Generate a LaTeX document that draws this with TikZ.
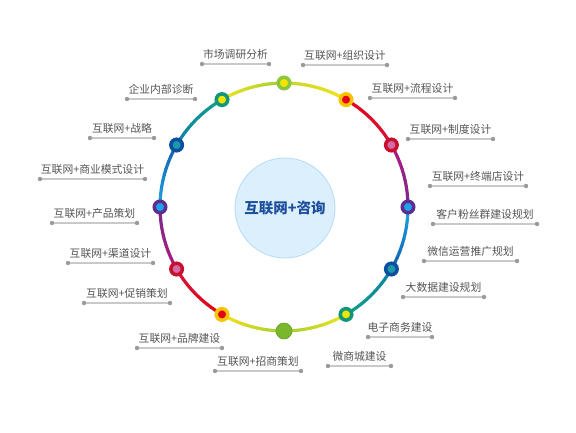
\documentclass[tikz,border=0pt]{standalone}
\usepackage{fontspec}
\setmainfont{Noto Sans CJK SC}
\usetikzlibrary{calc}
\definecolor{sgA}{HTML}{C2D82C}
\definecolor{sgB}{HTML}{F7E11B}
\definecolor{srA}{HTML}{E60012}
\definecolor{srB}{HTML}{D7143C}
\definecolor{spA}{HTML}{B0197A}
\definecolor{spB}{HTML}{7B2A8F}
\definecolor{sbA}{HTML}{22A6E6}
\definecolor{sbB}{HTML}{0F5FAE}
\definecolor{stA}{HTML}{0F7FA8}
\definecolor{stB}{HTML}{11A088}
\definecolor{syA}{HTML}{F0E61A}
\definecolor{syB}{HTML}{A3CD39}
\definecolor{oGreen}{HTML}{8CC63F}
\definecolor{iYellow}{HTML}{F2E500}
\definecolor{oYellow}{HTML}{F9C300}
\definecolor{iRed}{HTML}{E2001A}
\definecolor{oRed}{HTML}{C8102E}
\definecolor{iPink}{HTML}{D46AA6}
\definecolor{oPurple}{HTML}{5C2D91}
\definecolor{iBlue}{HTML}{1FA3E8}
\definecolor{oDBlue}{HTML}{0B4FA0}
\definecolor{iTeal}{HTML}{1A9AAA}
\definecolor{oTeal}{HTML}{10967A}
\definecolor{solidGreen}{HTML}{78B82A}
\definecolor{lineGray}{HTML}{C9C9C9}
\definecolor{dotGray}{HTML}{9A9A9A}
\definecolor{txtGray}{HTML}{555555}
\definecolor{hubFill}{HTML}{DCEFFD}
\definecolor{hubDraw}{HTML}{B5DBF5}
\definecolor{hubText}{HTML}{1D4F9C}
\newcommand\lab[5]{%
  \coordinate (#1a) at (#2,#4);
  \coordinate (#1b) at (#3,#4);
  \draw[labline] (#1a) -- (#1b);
  \fill[dotGray] (#1a) circle[radius=2.2pt];
  \fill[dotGray] (#1b) circle[radius=2.2pt];
  \node[labtext] (#1) at ({(#2+#3)/2},{#4-9.5}) {#5};}
\begin{document}
\begin{tikzpicture}[x=1pt,y=-1pt,
  rnode/.style 2 args={circle, draw=#1, fill=#2, line width=3.5pt, minimum size=11.5pt, inner sep=0pt},
  ringline/.style={line width=3.2pt, line cap=round},
  labline/.style={draw=lineGray, line width=1.1pt},
  labtext/.style={text=txtGray, font=\fontsize{10.8}{12}\selectfont, inner sep=0pt}]
\useasboundingbox (0,0) rectangle (576,432);
\fill[white] (0,0) rectangle (576,432);
\coordinate (c) at (284,207);
% hub
\node[circle, fill=hubFill, draw=hubDraw, line width=0.8pt, minimum size=100pt, inner sep=0pt,
      text=hubText, font=\bfseries\fontsize{14.5}{16}\selectfont] (hub) at (285,208) {互联网+咨询};
% ring segments with gradients
\foreach \sa/\ea/\ca/\cb in {90/60/sgA/sgB, 60/30/srA/srB, 30/0/spA/spB, 0/-30/sbA/sbB,
   -30/-60/stA/stB, -60/-90/syA/syB, 270/240/syB/sgB, 240/210/srA/srB, 210/180/spA/spB,
   180/150/sbA/sbB, 150/120/stA/stB, 120/90/syA/syB} {
  \foreach \i in {0,...,9} {
    \pgfmathsetmacro\aa{\sa+(\ea-\sa)*\i/10}
    \pgfmathsetmacro\bb{\sa+(\ea-\sa)*(\i+1)/10}
    \pgfmathtruncatemacro\p{100-(\i+0.5)*10}
    \draw[ringline, color=\ca!\p!\cb] ([shift={(-\aa:124)}]c) -- ([shift={(-\bb:124)}]c);
  }
}
% ring nodes
\node[rnode={oGreen}{iYellow}] (n90) at ([shift={(-90:124)}]c) {};
\node[rnode={oYellow}{iRed}] (n60) at ([shift={(-60:124)}]c) {};
\node[rnode={oRed}{iPink}] (n30) at ([shift={(-30:124)}]c) {};
\node[rnode={oPurple}{iBlue}] (n0) at ([shift={(0:124)}]c) {};
\node[rnode={oDBlue}{iTeal}] (nm30) at ([shift={(30:124)}]c) {};
\node[rnode={oTeal}{iYellow}] (nm60) at ([shift={(60:124)}]c) {};
\node[circle, fill=solidGreen, draw=solidGreen!85!black, line width=0.6pt, minimum size=16pt, inner sep=0pt] (nm90) at ([shift={(90:124)}]c) {};
\node[rnode={oYellow}{iRed}] (nm120) at ([shift={(120:124)}]c) {};
\node[rnode={oRed}{iPink}] (nm150) at ([shift={(150:124)}]c) {};
\node[rnode={oPurple}{iBlue}] (n180) at ([shift={(180:124)}]c) {};
\node[rnode={oDBlue}{iTeal}] (n150) at ([shift={(-150:124)}]c) {};
\node[rnode={oTeal}{iYellow}] (n120) at ([shift={(-120:124)}]c) {};
% labels
\lab{l1}{202}{269}{64}{市场调研分析}
\lab{l2}{303}{387}{65}{互联网+组织设计}
\lab{l3}{370}{455}{98}{互联网+流程设计}
\lab{l4}{408}{493}{139}{互联网+制度设计}
\lab{l5}{430}{526}{186}{互联网+终端店设计}
\lab{l6}{433}{537}{224}{客户粉丝群建设规划}
\lab{l7}{424}{517}{261}{微信运营推广规划}
\lab{l8}{403}{484}{297}{大数据建设规划}
\lab{l9}{368}{432}{337}{电子商务建设}
\lab{l10}{328}{391}{366}{微商城建设}
\lab{l11}{215}{301}{371}{互联网+招商策划}
\lab{l12}{137}{222}{348}{互联网+品牌建设}
\lab{l13}{84}{170}{303}{互联网+促销策划}
\lab{l14}{68}{153}{263}{互联网+渠道设计}
\lab{l15}{52}{137}{223}{互联网+产品策划}
\lab{l16}{40}{145}{179}{互联网+商业模式设计}
\lab{l17}{90}{154}{138}{互联网+战略}
\lab{l18}{127}{195}{99}{企业内部诊断}
\end{tikzpicture}
\end{document}
